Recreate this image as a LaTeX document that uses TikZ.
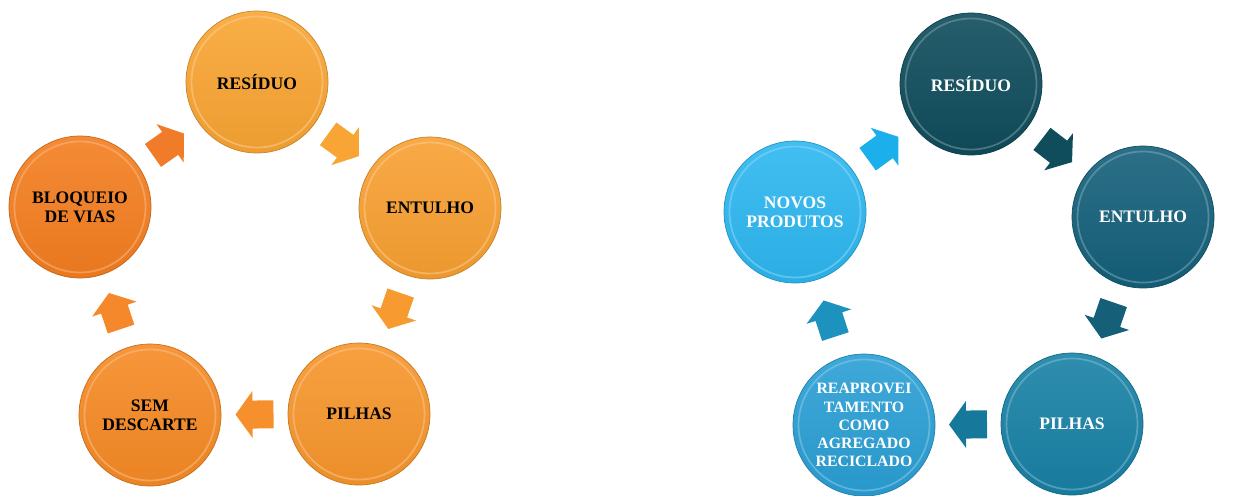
\documentclass[tikz,border=0pt]{standalone}
\usepackage{fontspec}
\setmainfont{Liberation Serif}
\usetikzlibrary{calc}
\definecolor{oA}{HTML}{F9A533}
\definecolor{oB}{HTML}{F8A032}
\definecolor{oC}{HTML}{F7962C}
\definecolor{oD}{HTML}{F68A25}
\definecolor{oE}{HTML}{F47E20}
\definecolor{aoA}{HTML}{F8A536}
\definecolor{aoB}{HTML}{F79B30}
\definecolor{aoC}{HTML}{F5902D}
\definecolor{aoD}{HTML}{F4882B}
\definecolor{aoE}{HTML}{F07C2A}
\definecolor{tA}{HTML}{0F4C5C}
\definecolor{tB}{HTML}{14607A}
\definecolor{tC}{HTML}{1881A5}
\definecolor{tD}{HTML}{2A9FD4}
\definecolor{tE}{HTML}{2DB7F0}
\definecolor{atA}{HTML}{0F4D5D}
\definecolor{atB}{HTML}{155F78}
\definecolor{atC}{HTML}{16789A}
\definecolor{atD}{HTML}{1E92BF}
\definecolor{atE}{HTML}{1BB0EC}
\newcommand\flowarrow[4]{%
  \coordinate (#4) at ($(#1)!0.5!(#2)$);
  \pgfmathanglebetweenpoints{\pgfpointanchor{#1}{center}}{\pgfpointanchor{#2}{center}}%
  \let\myarrang\pgfmathresult
  \fill[#3, shift={(#4)}, rotate=\myarrang] (-19,-14) -- (2,-14) -- (2,-23.5) -- (19,0)
    -- (2,23.5) -- (2,14) -- (-19,14) -- cycle;}
\begin{document}
\begin{tikzpicture}[x=0.02cm,y=-0.02cm,
  orb/.style={circle, minimum size=2.84cm, inner sep=0pt, align=center,
    font=\bfseries\fontsize{10}{11}\selectfont,
    top color=#1!90!white, bottom color=#1!95!black, draw=#1!80!black, line width=0.4pt,
    path picture={\draw[#1!55!white, opacity=0.55, line width=1pt]
      (path picture bounding box.center) circle (1.31cm);}},
  orbL/.style={orb=#1, text=black},
  orbR/.style={orb=#1, text=white}]
\useasboundingbox (0,0) rectangle (1237,495);
% left cycle
\node[orbL=oA] (lres) at (257,82) {RESÍDUO};
\node[orbL=oB] (lent) at (430,208) {ENTULHO};
\node[orbL=oC] (lpil) at (359,414) {PILHAS};
\node[orbL=oD] (lsem) at (150,415) {SEM\\DESCARTE};
\node[orbL=oE] (lblo) at (80,207) {BLOQUEIO\\DE VIAS};
\flowarrow{lres}{lent}{aoA}{la1}
\flowarrow{lent}{lpil}{aoB}{la2}
\flowarrow{lpil}{lsem}{aoC}{la3}
\flowarrow{lsem}{lblo}{aoD}{la4}
\flowarrow{lblo}{lres}{aoE}{la5}
% right cycle
\node[orbR=tA] (rres) at (971,84) {RESÍDUO};
\node[orbR=tB] (rent) at (1143,217) {ENTULHO};
\node[orbR=tC] (rpil) at (1072,424) {PILHAS};
\node[orbR=tD, font=\bfseries\fontsize{9}{10.3}\selectfont] (rrea) at (864,425) {REAPROVEI\\TAMENTO\\COMO\\AGREGADO\\RECICLADO};
\node[orbR=tE] (rnov) at (795,212) {NOVOS\\PRODUTOS};
\flowarrow{rres}{rent}{atA}{ra1}
\flowarrow{rent}{rpil}{atB}{ra2}
\flowarrow{rpil}{rrea}{atC}{ra3}
\flowarrow{rrea}{rnov}{atD}{ra4}
\flowarrow{rnov}{rres}{atE}{ra5}
\end{tikzpicture}
\end{document}
